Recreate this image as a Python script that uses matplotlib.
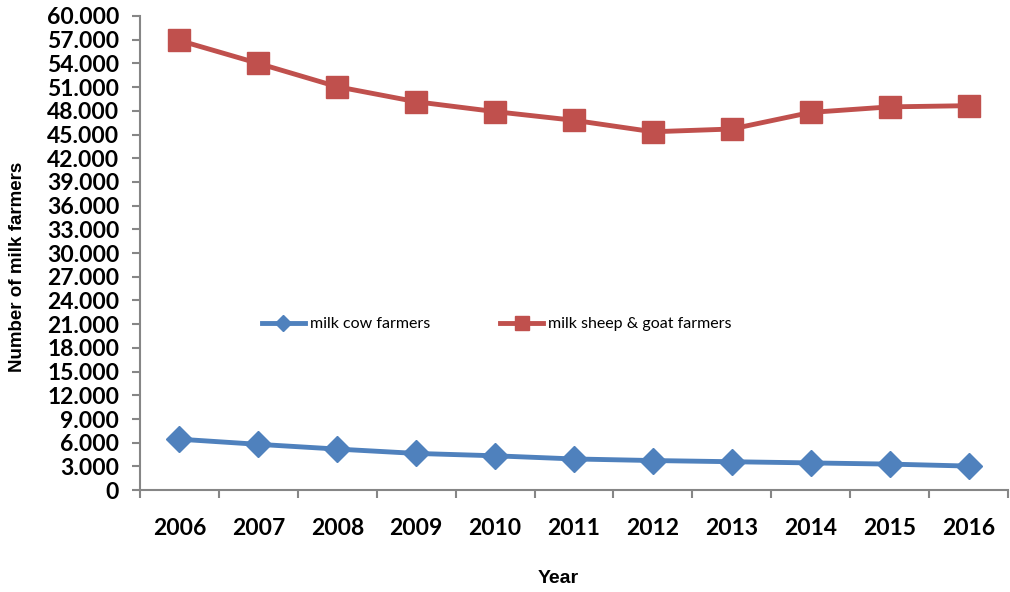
import numpy as np
import matplotlib.pyplot as plt
from matplotlib.ticker import FuncFormatter, MultipleLocator, FixedLocator

years = ['2006', '2007', '2008', '2009', '2010', '2011', '2012', '2013', '2014', '2015', '2016']
cow_farmers = [6450, 5800, 5200, 4650, 4350, 3950, 3750, 3600, 3450, 3300, 3050]
sheep_goat_farmers = [56900, 54000, 51050, 49150, 47900, 46800, 45350, 45700, 47800, 48500, 48650]

plt.rcParams['font.family'] = ['Lato', 'DejaVu Sans']

x = np.arange(len(years))

fig = plt.figure(figsize=(10.1, 5.92), dpi=100)
ax = fig.add_axes([0.1386, 0.172, 0.8594, 0.801])

ax.plot(x, cow_farmers, color='#4F81BD', lw=3.5, marker='D', markersize=13,
        label='milk cow farmers')
ax.plot(x, sheep_goat_farmers, color='#C0504D', lw=3.5, marker='s', markersize=16,
        label='milk sheep & goat farmers')

ax.set_xlim(-0.5, len(years) - 0.5)
ax.set_ylim(0, 60000)
ax.yaxis.set_major_locator(MultipleLocator(3000))
ax.yaxis.set_major_formatter(FuncFormatter(lambda v, p: f'{int(v):,}'.replace(',', '.')))
ax.set_xticks(x)
ax.set_xticklabels(years, fontsize=16.5, fontweight='bold')
ax.xaxis.set_minor_locator(FixedLocator(np.arange(-0.5, len(years), 1)))
ax.tick_params(axis='x', which='major', length=0, pad=20)
ax.tick_params(axis='x', which='minor', length=6, width=1.5, color='#868686')
ax.tick_params(axis='y', length=6, width=1.5, color='#868686', labelsize=16.5, pad=9)
for lab in ax.get_yticklabels():
    lab.set_fontweight('bold')

for s in ['top', 'right']:
    ax.spines[s].set_visible(False)
for s in ['left', 'bottom']:
    ax.spines[s].set_color('#868686')
    ax.spines[s].set_linewidth(1.5)

ax.set_xlabel('Year', fontsize=14, fontweight='bold', family='Liberation Sans', va='center')
ax.xaxis.set_label_coords(0.4816, -0.186)
ax.set_ylabel('Number of milk farmers', fontsize=13.5, fontweight='bold',
              family='Liberation Sans', va='center')
ax.yaxis.set_label_coords(-0.1406, 0.47)

ax.legend(loc='center left', bbox_to_anchor=(0.1406, 0.35), ncol=2, frameon=False,
          fontsize=11.5, markerscale=0.65, handlelength=2.67, handletextpad=0.33,
          columnspacing=4.4, borderpad=0, borderaxespad=0)

plt.savefig('out.png', dpi=100)
